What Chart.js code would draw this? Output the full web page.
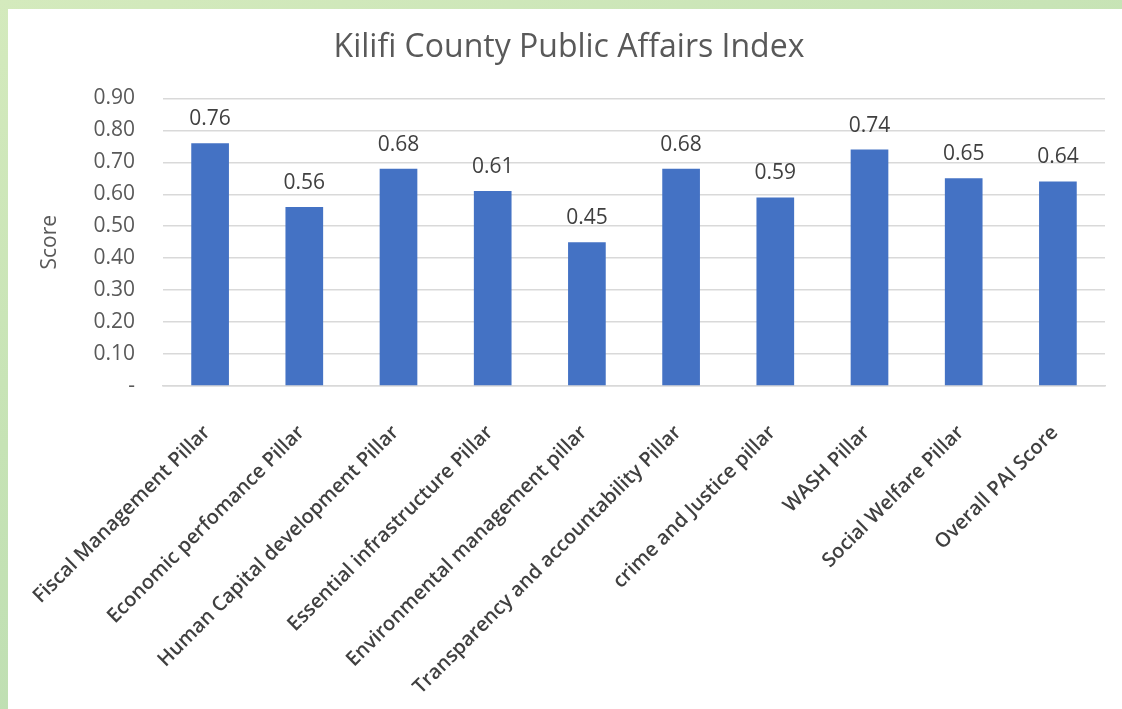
<!DOCTYPE html>
<html>
<head>
<meta charset="utf-8">
<script src="https://cdn.jsdelivr.net/npm/chart.js@4.4.1/dist/chart.umd.min.js"></script>
<style>
    html, body {
        margin: 0;
        padding: 0;
        width: 1122px;
        height: 709px;
        overflow: hidden;
        background: linear-gradient(160deg, #d4eabd 0%, #c6e3b5 40%, #b6dab0 100%);
    }
    #wrap {
        position: absolute;
        left: 8px;
        top: 9px;
        width: 1114px;
        height: 700px;
        background: #ffffff;
    }
</style>
</head>
<body>
<div id="wrap"><canvas id="myChart" width="1114" height="700"></canvas></div>
<script>
const categories = [
    'Fiscal Management Pillar',
    'Economic perfomance Pillar',
    'Human Capital development Pillar',
    'Essential infrastructure Pillar',
    'Environmental management pillar',
    'Transparency and accountability Pillar',
    'crime and Justice pillar',
    'WASH Pillar',
    'Social Welfare Pillar',
    'Overall PAI Score'
]
const scores = [0.76, 0.56, 0.68, 0.61, 0.45, 0.68, 0.59, 0.74, 0.65, 0.64]
const yTicks = ['-', '0.10', '0.20', '0.30', '0.40', '0.50', '0.60', '0.70', '0.80', '0.90']

const fontFamily = "'Open Sans', 'Noto Sans', sans-serif"

// value labels above each bar
const barLabels = {
    id: 'barLabels',
    afterDatasetsDraw(chart) {
        const ctx = chart.ctx
        const meta = chart.getDatasetMeta(0)
        ctx.save()
        ctx.font = '21px ' + fontFamily
        ctx.fillStyle = '#404040'
        ctx.textAlign = 'center'
        ctx.textBaseline = 'middle'
        meta.data.forEach((bar, i) => {
            ctx.fillText(scores[i].toFixed(2), bar.x, bar.y - 24)
        })
        ctx.restore()
    }
}

const ctx = document.getElementById('myChart').getContext('2d')
const chart = new Chart(ctx, {
    type: 'bar',
    data: {
        labels: categories,
        datasets: [{
            label: 'Score',
            data: scores,
            backgroundColor: '#4472C4',
            barPercentage: 0.4,
            categoryPercentage: 1.0
        }]
    },
    plugins: [barLabels],
    options: {
        responsive: false,
        animation: false,
        layout: {
            padding: { left: 25, right: 17, top: 0, bottom: 0 }
        },
        plugins: {
            legend: { display: false },
            tooltip: { enabled: false },
            title: {
                display: true,
                text: 'Kilifi County Public Affairs Index',
                color: '#595959',
                font: { family: fontFamily, size: 32, weight: 'normal' },
                padding: { top: 20, bottom: 31 }
            }
        },
        scales: {
            x: {
                ticks: {
                    color: '#404040',
                    font: { family: fontFamily, size: 20, weight: '600' },
                    minRotation: 45,
                    maxRotation: 45,
                    padding: 27,
                    labelOffset: -3
                },
                grid: { display: false },
                border: { color: '#d9d9d9', width: 1.5 },
                afterFit(scale) {
                    // keep the plot area fixed, rotated labels may overflow
                    scale.height = 323
                    scale.paddingLeft = 0
                    scale.paddingRight = 0
                }
            },
            y: {
                min: 0,
                max: 0.9,
                ticks: {
                    stepSize: 0.1,
                    color: '#595959',
                    font: { family: fontFamily, size: 21 },
                    padding: 28,
                    callback: (value, index) => yTicks[index]
                },
                grid: {
                    color: '#d9d9d9',
                    lineWidth: 1.5,
                    drawTicks: false
                },
                border: { display: false },
                title: {
                    display: true,
                    text: 'Score',
                    color: '#595959',
                    font: { family: fontFamily, size: 21 }
                },
                afterFit(scale) {
                    scale.width = 130
                }
            }
        }
    }
})
</script>
</body>
</html>
